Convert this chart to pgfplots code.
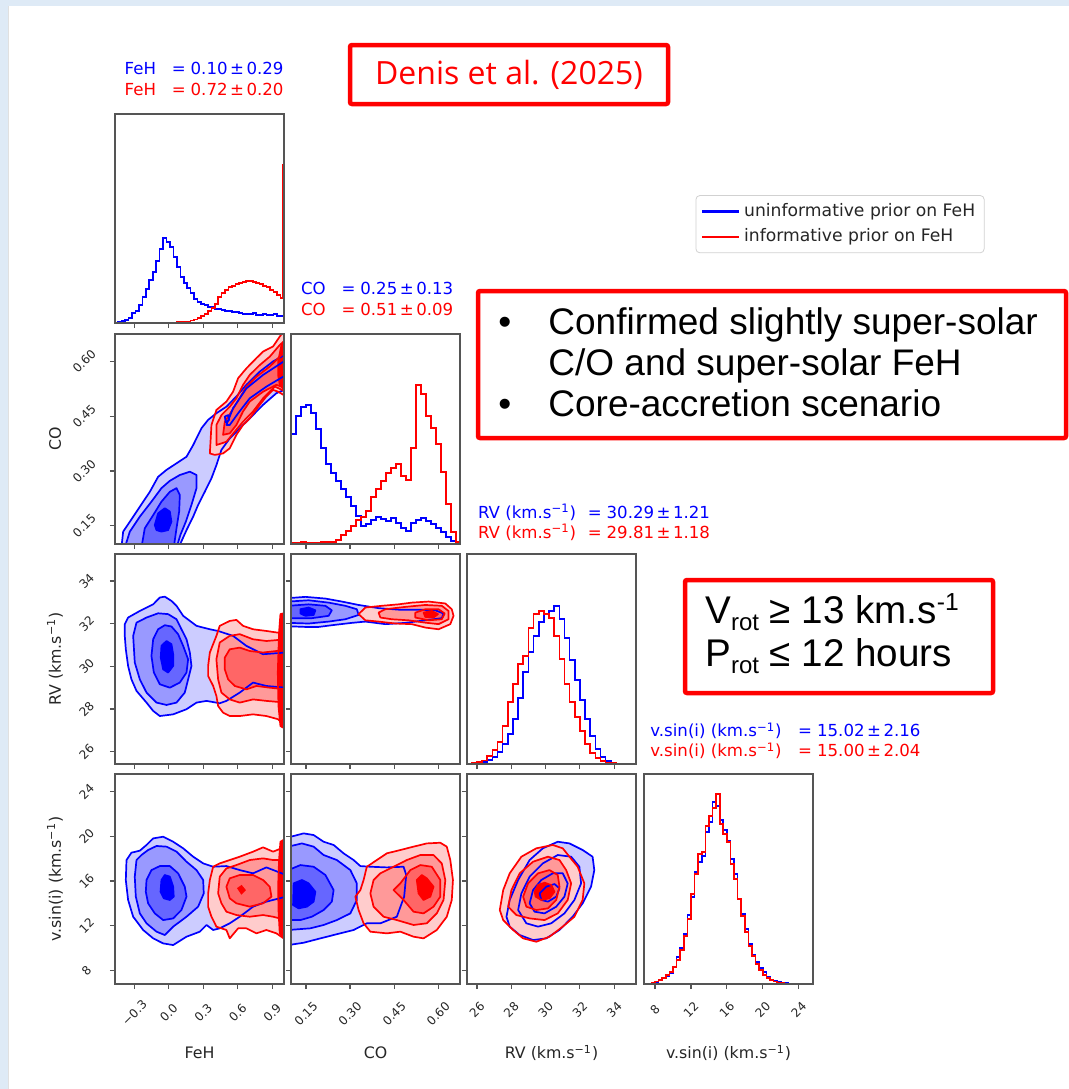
\documentclass[border=0pt]{standalone}
\usepackage{fontspec}
\setmainfont{DejaVu Sans}
\newfontfamily\arialf{Liberation Sans}
\newfontfamily\opensf{Open Sans}
\usepackage{pgfplots}
\usepackage{pgfplotstable}
\pgfplotsset{compat=1.18}
\definecolor{b1}{RGB}{204,204,255}
\definecolor{b2}{RGB}{153,153,255}
\definecolor{b3}{RGB}{102,102,255}
\definecolor{r1}{RGB}{255,204,204}
\definecolor{r2}{RGB}{255,153,153}
\definecolor{r3}{RGB}{255,102,102}
\definecolor{slideblue}{RGB}{222,234,246}
\definecolor{frm}{RGB}{85,85,85}

\pgfplotsset{
  cp/.style={scale only axis, width=84.5pt, height=105pt, anchor=south west, axis on top,
    axis line style={frm, line width=0.6pt},
    tick style={frm, line width=0.6pt},
    tick align=outside, major tick length=2.6pt,
    xtick pos=left, ytick pos=left,
    tick label style={font=\fontsize{6}{7}\selectfont, text=black!85},
    label style={font=\fontsize{7.9}{9}\selectfont, text=black!85},
    ylabel style={at={(axis description cs:-0.355,0.5)}, anchor=center},
    xlabel style={at={(axis description cs:0.5,-0.329)}, anchor=center}},
  xlf/.style={xticklabel style={yshift=-11.8pt, rotate=45, anchor=center}},
  xl4/.style={xticklabel style={yshift=-12.3pt, rotate=45, anchor=center}},
  xl2/.style={xticklabel style={yshift=-10.3pt, rotate=45, anchor=center}},
  yl4/.style={yticklabel style={xshift=-12.8pt, rotate=45, anchor=center}},
  yl2/.style={yticklabel style={xshift=-11.6pt, rotate=45, anchor=center}},
  fehx/.style={xmin=-0.468, xmax=1.002, xtick={-0.3,0,0.3,0.6,0.9}},
  cox/.style={xmin=0.099, xmax=0.674, xtick={0.15,0.3,0.45,0.6}},
  rvx/.style={xmin=25.42, xmax=35.27, xtick={26,28,30,32,34}},
  vsx/.style={xmin=6.77, xmax=25.59, xtick={8,12,16,20,24}},
  coy/.style={ymin=0.10, ymax=0.675, ytick={0.15,0.3,0.45,0.6}},
  rvy/.style={ymin=25.42, ymax=35.27, ytick={26,28,30,32,34}},
  vsy/.style={ymin=6.77, ymax=25.59, ytick={8,12,16,20,24}},
  histy/.style={ymin=0, ymax=210, ytick=\empty},
  hb/.style={const plot, blue, line width=0.8pt, line join=miter},
  hr/.style={const plot, red, line width=0.8pt, line join=miter},
  cl/.style={draw=#1, line width=0.85pt, line join=round},
}

\newcommand\cset[8]{%
  \addplot[fill=b1,draw=none] table {#1} -- cycle;
  \addplot[fill=b2,draw=none] table {#2} -- cycle;
  \addplot[fill=b3,draw=none] table {#3} -- cycle;
  \addplot[fill=blue,draw=none] table {#4} -- cycle;
  \addplot[fill=r1,draw=none] table {#5} -- cycle;
  \addplot[fill=r2,draw=none] table {#6} -- cycle;
  \addplot[fill=r3,draw=none] table {#7} -- cycle;
  \addplot[fill=red,draw=none] table {#8} -- cycle;
  \addplot[cl=blue] table {#1} -- cycle;
  \addplot[cl=blue] table {#2} -- cycle;
  \addplot[cl=blue] table {#3} -- cycle;
  \addplot[cl=blue] table {#4} -- cycle;
  \addplot[cl=red] table {#5} -- cycle;
  \addplot[cl=red] table {#6} -- cycle;
  \addplot[cl=red] table {#7} -- cycle;
  \addplot[cl=red] table {#8} -- cycle;
}

% ---------- Panel A : FeH vs CO ----------
\pgfplotstableread{
x y
-0.412 0.09
-0.397 0.134
-0.339 0.161
-0.252 0.202
-0.165 0.243
-0.093 0.284
-0.020 0.303
0.067 0.321
0.154 0.339
0.212 0.371
0.284 0.417
0.342 0.440
0.414 0.458
0.501 0.476
0.588 0.504
0.675 0.536
0.791 0.572
0.907 0.600
1.02 0.62
1.02 0.524
0.936 0.513
0.820 0.481
0.704 0.444
0.617 0.417
0.530 0.389
0.458 0.358
0.414 0.316
0.371 0.280
0.313 0.243
0.255 0.207
0.212 0.175
0.154 0.138
0.085 0.09
}\Abo
\pgfplotstableread{
x y
-0.383 0.09
-0.339 0.134
-0.252 0.175
-0.151 0.216
-0.064 0.253
0.009 0.273
0.096 0.289
0.183 0.298
0.241 0.289
0.241 0.253
0.197 0.207
0.148 0.161
0.101 0.125
0.067 0.09
}\Abm
\pgfplotstableread{
x y
-0.238 0.09
-0.209 0.143
-0.136 0.179
-0.064 0.216
0.009 0.243
0.067 0.253
0.096 0.234
0.090 0.189
0.067 0.143
0.043 0.09
}\Abd
\pgfplotstableread{
x y
-0.122 0.152
-0.093 0.184
-0.035 0.198
0.009 0.189
0.023 0.161
-0.006 0.138
-0.064 0.134
-0.107 0.138
}\Abc
\pgfplotstableread{
x y
0.559 0.472
0.675 0.526
0.820 0.563
1.02 0.604
1.02 0.563
0.849 0.531
0.704 0.499
0.603 0.458
0.530 0.426
0.501 0.426
}\Abx
\pgfplotstableread{
x y
0.487 0.449
0.516 0.453
0.525 0.440
0.496 0.433
}\Aby
\pgfplotstableread{
x y
0.357 0.348
0.371 0.426
0.414 0.467
0.501 0.490
0.559 0.517
0.603 0.554
0.675 0.581
0.762 0.609
0.820 0.627
0.907 0.641
0.965 0.668
1.02 0.69
1.02 0.504
0.951 0.517
0.907 0.522
0.849 0.504
0.791 0.481
0.704 0.444
0.646 0.426
0.588 0.399
0.530 0.362
0.472 0.348
0.400 0.344
}\Aro
\pgfplotstableread{
x y
0.414 0.371
0.414 0.426
0.458 0.453
0.530 0.476
0.588 0.499
0.646 0.536
0.704 0.563
0.791 0.590
0.878 0.613
0.965 0.645
1.02 0.66
1.02 0.517
0.922 0.531
0.820 0.499
0.733 0.463
0.646 0.435
0.574 0.408
0.501 0.380
}\Arm
\pgfplotstableread{
x y
0.472 0.399
0.487 0.435
0.545 0.463
0.588 0.485
0.675 0.531
0.762 0.558
0.878 0.586
0.965 0.613
1.02 0.627
1.02 0.526
0.936 0.536
0.820 0.517
0.704 0.490
0.646 0.463
0.588 0.426
0.530 0.403
}\Ard
\pgfplotstableread{
x y
0.951 0.600
0.980 0.645
1.02 0.663
1.02 0.517
0.965 0.536
0.951 0.563
}\Arc

% ---------- Panel B : FeH vs RV ----------
\pgfplotstableread{
x y
-0.383 31.98
-0.354 32.29
-0.252 32.60
-0.136 32.91
-0.078 33.23
-0.035 33.27
0.023 33.07
0.067 32.84
0.125 32.37
0.241 31.90
0.357 31.74
0.429 31.66
0.559 31.43
0.675 30.96
0.820 30.57
1.02 30.65
1.02 29.00
0.849 29.08
0.733 29.24
0.617 28.77
0.501 28.38
0.443 28.27
0.328 28.38
0.241 28.30
0.154 27.99
0.038 27.75
-0.078 27.67
-0.136 27.91
-0.194 28.30
-0.281 28.85
-0.325 29.39
-0.354 30.02
-0.374 30.80
-0.383 31.43
}\Bbo
\pgfplotstableread{
x y
-0.310 31.43
-0.281 32.05
-0.194 32.29
-0.093 32.49
-0.006 32.45
0.067 32.21
0.110 31.74
0.154 31.27
0.183 30.65
0.197 30.02
0.168 29.39
0.139 28.77
0.067 28.30
-0.020 28.19
-0.107 28.30
-0.194 28.77
-0.252 29.39
-0.296 30.18
}\Bbm
\pgfplotstableread{
x y
-0.136 31.27
-0.093 31.74
-0.035 31.93
0.023 31.87
0.081 31.51
0.125 30.96
0.168 30.33
0.154 29.71
0.096 29.24
0.009 29.00
-0.078 29.16
-0.130 29.71
-0.151 30.49
}\Bbd
\pgfplotstableread{
x y
-0.064 30.96
-0.020 31.19
0.023 31.04
0.038 30.57
0.038 30.02
-0.006 29.71
-0.049 29.86
-0.070 30.41
}\Bbc
\pgfplotstableread{
x y
0.342 30.02
0.357 30.65
0.414 31.43
0.443 31.90
0.530 32.13
0.588 32.18
0.646 31.90
0.733 31.74
0.849 31.66
0.951 31.58
1.02 31.74
1.02 27.12
0.951 27.52
0.849 27.67
0.733 27.75
0.617 27.67
0.530 27.67
0.472 27.83
0.429 28.14
0.414 28.61
0.386 29.08
0.342 29.55
}\Bro
\pgfplotstableread{
x y
0.414 30.33
0.443 31.12
0.530 31.43
0.617 31.51
0.733 31.27
0.849 31.19
1.02 31.27
1.02 28.30
0.849 28.38
0.733 28.45
0.617 28.30
0.530 28.45
0.458 28.77
0.429 29.39
}\Brm
\pgfplotstableread{
x y
0.487 30.41
0.530 30.80
0.617 30.88
0.704 30.72
0.820 30.65
0.936 30.72
1.02 30.80
1.02 28.92
0.878 29.00
0.762 29.08
0.675 28.92
0.574 29.08
0.516 29.39
0.487 29.86
}\Brd
\pgfplotstableread{
x y
0.959 31.58
0.971 32.45
1.02 32.52
1.02 27.05
0.971 27.20
0.954 28.14
0.948 29.71
}\Brc

% ---------- Panel C : CO vs RV ----------
\pgfplotstableread{
x y
0.09 33.20
0.148 33.26
0.216 33.18
0.272 33.04
0.329 32.88
0.397 32.73
0.465 32.66
0.533 32.66
0.590 32.63
0.618 32.48
0.612 32.26
0.556 32.16
0.488 32.04
0.420 31.98
0.352 32.10
0.306 32.04
0.250 31.95
0.193 31.85
0.148 31.85
0.09 31.88
}\Cbo
\pgfplotstableread{
x y
0.09 33.04
0.159 33.10
0.227 32.99
0.284 32.84
0.323 32.68
0.329 32.41
0.284 32.21
0.227 32.10
0.159 32.01
0.09 32.04
}\Cbm
\pgfplotstableread{
x y
0.09 32.84
0.159 32.91
0.216 32.84
0.238 32.63
0.227 32.37
0.170 32.26
0.09 32.26
}\Cbd
\pgfplotstableread{
x y
0.131 32.68
0.159 32.76
0.182 32.63
0.176 32.41
0.148 32.37
0.131 32.48
}\Cbc
\pgfplotstableread{
x y
0.329 32.45
0.352 32.76
0.408 32.84
0.465 32.91
0.510 32.99
0.567 33.04
0.624 32.95
0.646 32.68
0.652 32.37
0.641 31.98
0.601 31.74
0.556 31.82
0.510 31.98
0.454 32.01
0.397 32.10
0.352 32.16
}\Cro
\pgfplotstableread{
x y
0.397 32.52
0.420 32.68
0.488 32.79
0.556 32.88
0.612 32.84
0.635 32.60
0.635 32.21
0.601 31.98
0.556 32.05
0.499 32.16
0.442 32.21
0.403 32.29
}\Crm
\pgfplotstableread{
x y
0.522 32.52
0.556 32.68
0.601 32.68
0.622 32.48
0.612 32.21
0.567 32.16
0.522 32.29
}\Crd
\pgfplotstableread{
x y
0.550 32.52
0.578 32.60
0.599 32.45
0.584 32.29
0.556 32.32
}\Crc

% ---------- Panel D : FeH vs vsini ----------
\pgfplotstableread{
x y
-0.368 17.88
-0.325 18.54
-0.252 18.72
-0.194 19.23
-0.136 19.82
-0.049 19.97
0.038 19.52
0.125 18.93
0.212 18.18
0.299 17.58
0.386 17.28
0.501 17.34
0.617 16.98
0.733 16.69
0.849 17.22
1.02 16.54
1.02 14.60
0.849 14.15
0.733 13.70
0.617 12.80
0.530 12.21
0.443 11.76
0.386 11.61
0.328 12.06
0.270 11.46
0.154 11.01
0.038 10.26
-0.049 10.41
-0.136 10.86
-0.223 11.61
-0.310 12.80
-0.354 14.30
-0.374 16.09
}\Dbo
\pgfplotstableread{
x y
-0.281 17.88
-0.238 18.33
-0.180 18.78
-0.107 19.14
-0.020 19.08
0.067 18.63
0.154 17.73
0.241 16.98
0.299 16.09
0.304 14.89
0.255 13.70
0.154 12.80
0.038 11.91
-0.035 11.16
-0.107 11.46
-0.194 12.21
-0.252 13.10
-0.287 14.60
-0.296 16.39
}\Dbm
\pgfplotstableread{
x y
-0.194 16.09
-0.151 16.98
-0.078 17.34
0.009 17.34
0.081 16.69
0.139 15.49
0.154 14.60
0.110 13.40
0.038 12.65
-0.049 12.50
-0.122 13.10
-0.180 14.00
-0.200 15.04
}\Dbd
\pgfplotstableread{
x y
-0.064 16.09
-0.035 16.54
0.009 16.39
0.038 15.49
0.043 14.60
0.009 14.30
-0.043 14.45
-0.072 15.04
}\Dbc
\pgfplotstableread{
x y
0.342 14.89
0.357 16.09
0.386 17.28
0.443 17.58
0.530 17.88
0.617 18.18
0.733 18.63
0.820 19.02
0.907 18.63
0.980 18.93
1.02 19.52
1.02 10.71
0.936 11.31
0.849 11.61
0.762 11.31
0.675 11.76
0.603 11.76
0.530 10.86
0.501 11.61
0.414 11.91
0.371 12.80
0.342 13.70
}\Dro
\pgfplotstableread{
x y
0.429 14.89
0.443 16.39
0.501 17.13
0.588 17.43
0.704 17.88
0.820 18.03
0.907 17.88
1.02 17.88
1.02 12.50
0.907 12.80
0.820 12.95
0.704 12.80
0.588 12.95
0.501 13.25
0.458 14.00
}\Drm
\pgfplotstableread{
x y
0.501 15.49
0.530 16.24
0.617 16.54
0.733 16.54
0.820 16.09
0.878 15.49
0.893 14.60
0.820 14.00
0.704 13.70
0.588 14.00
0.530 14.45
}\Drd
\pgfplotstableread{
x y
0.959 17.88
0.971 19.52
1.02 19.82
1.02 10.71
0.965 11.31
0.954 13.40
0.951 15.49
}\Drc
\pgfplotstableread{
x y
0.603 15.34
0.632 15.55
0.661 15.19
0.632 14.89
}\Drx

% ---------- Panel E : CO vs vsini ----------
\pgfplotstableread{
x y
0.09 19.91
0.142 20.27
0.176 20.12
0.210 19.52
0.244 19.23
0.278 18.48
0.312 17.88
0.335 17.34
0.369 17.28
0.425 17.22
0.482 17.28
0.491 16.54
0.484 14.60
0.459 12.80
0.403 12.21
0.357 12.21
0.312 11.61
0.244 11.16
0.199 10.86
0.142 10.47
0.09 10.26
}\Ebo
\pgfplotstableread{
x y
0.09 19.08
0.136 19.37
0.176 19.08
0.210 18.33
0.255 17.88
0.301 16.98
0.323 15.79
0.323 14.30
0.301 13.10
0.255 12.50
0.210 12.06
0.165 11.76
0.09 11.61
}\Ebm
\pgfplotstableread{
x y
0.09 16.98
0.131 17.43
0.176 17.28
0.216 16.54
0.244 15.19
0.238 14.15
0.210 13.40
0.170 12.80
0.131 12.50
0.09 12.50
}\Ebd
\pgfplotstableread{
x y
0.108 15.79
0.136 16.09
0.159 15.79
0.182 15.04
0.176 14.15
0.153 13.70
0.125 13.55
0.106 13.85
}\Ebc
\pgfplotstableread{
x y
0.357 17.28
0.391 17.88
0.425 18.48
0.471 18.78
0.516 19.08
0.561 19.37
0.607 19.43
0.629 19.08
0.641 17.88
0.650 16.09
0.646 14.30
0.629 12.80
0.595 11.61
0.550 10.86
0.516 11.01
0.471 11.46
0.425 11.31
0.369 11.46
0.346 12.21
0.329 13.40
0.318 14.60
0.335 15.19
0.346 16.09
}\Ero
\pgfplotstableread{
x y
0.380 16.09
0.403 16.69
0.448 17.28
0.493 17.88
0.539 18.33
0.584 18.33
0.612 17.58
0.624 16.09
0.618 14.30
0.595 13.10
0.561 12.21
0.516 12.06
0.459 12.50
0.414 12.80
0.380 13.70
0.369 14.89
}\Erm
\pgfplotstableread{
x y
0.448 15.19
0.471 15.79
0.505 16.98
0.539 17.43
0.578 17.28
0.607 16.09
0.607 14.60
0.584 13.70
0.550 13.10
0.516 13.25
0.482 14.30
}\Erd
\pgfplotstableread{
x y
0.527 16.09
0.544 16.54
0.561 16.24
0.584 15.49
0.573 14.60
0.550 14.30
0.533 14.89
}\Erc

% ---------- Panel F : RV vs vsini ----------
\pgfplotstableread{
x y
27.72 12.80
27.91 14.30
28.40 16.09
29.07 17.88
29.84 18.93
30.71 19.52
31.39 19.37
32.16 18.78
32.74 18.18
32.84 16.98
32.65 15.49
32.16 14.00
31.58 12.80
30.81 11.61
30.04 10.86
29.27 10.71
28.49 11.16
27.91 11.91
}\Fbo
\pgfplotstableread{
x y
28.40 13.40
28.59 14.89
29.07 16.39
29.84 17.58
30.71 18.33
31.49 18.18
31.97 17.28
32.07 15.79
31.68 14.30
31.10 13.10
30.33 12.21
29.56 11.91
28.88 12.21
}\Fbm
\pgfplotstableread{
x y
29.07 14.00
29.27 15.19
29.75 16.09
30.42 16.69
31.00 16.69
31.29 15.79
31.10 14.60
30.62 13.70
29.94 13.10
29.36 13.25
}\Fbd
\pgfplotstableread{
x y
29.65 14.89
30.04 15.49
30.52 15.73
30.81 15.34
30.62 14.60
30.14 14.15
29.75 14.30
}\Fbc
\pgfplotstableread{
x y
27.33 13.40
27.53 15.19
27.91 16.69
28.59 18.18
29.46 18.93
30.42 19.23
31.00 18.93
31.39 18.18
31.87 17.28
32.26 15.79
32.16 14.30
31.68 12.80
31.00 11.91
30.23 11.01
29.46 10.56
28.69 10.86
28.11 11.61
27.53 12.50
}\Fro
\pgfplotstableread{
x y
27.82 13.70
28.01 15.19
28.49 16.69
29.27 17.73
30.14 18.18
30.81 17.88
31.20 16.98
31.49 15.79
31.29 14.30
30.71 13.10
29.94 12.50
29.07 12.65
28.30 12.95
}\Frm
\pgfplotstableread{
x y
28.69 14.60
28.98 15.79
29.56 16.69
30.23 16.98
30.71 16.54
30.81 15.49
30.62 14.30
30.14 13.55
29.46 13.40
28.88 13.70
}\Frd
\pgfplotstableread{
x y
29.36 15.04
29.56 15.64
29.94 15.85
30.33 15.64
30.52 15.04
30.23 14.45
29.75 14.30
29.42 14.60
}\Frc

\newcommand\tf{\fontsize{8.3}{10}\selectfont}
\newcommand\kms{(km.s\textsuperscript{−1})}

\begin{document}
\begin{tikzpicture}
% slide background
\begin{scope}[x=0.5pt,y=-0.5pt]
\fill[slideblue] (0,0) rectangle (1069,1089);
\fill[white] (8.5,6) rectangle (1069,1089);
\draw[black!12, line width=0.4pt] (8.5,6) -- (8.5,1089);
\end{scope}

% ===== Row 1 : FeH histogram =====
\begin{axis}[cp, fehx, histy, ymax=209, height=104.5pt, at={(57.5pt,-161.5pt)}, xticklabels={},
  legend style={at={(3.435,0.612)}, anchor=north west, draw=black!18, rounded corners=2pt, fill=white,
    font=\fontsize{8.6}{10}\selectfont, text=black!85, inner xsep=2.5pt, inner ysep=2pt, row sep=0.6pt},
  legend cell align=left,
  legend image code/.code={\draw[#1, line width=1.1pt] (0pt,0pt) -- (18.5pt,0pt);}]
\addplot[hb] coordinates {(-0.47,0) (-0.47,0.5) (-0.44,1) (-0.41,2) (-0.38,3) (-0.35,5) (-0.32,10) (-0.29,12) (-0.26,18) (-0.23,26) (-0.20,34) (-0.17,43) (-0.14,51) (-0.11,62) (-0.08,74) (-0.05,85) (-0.02,81) (0.01,76) (0.04,66) (0.07,56) (0.10,46) (0.13,40) (0.16,35) (0.19,30) (0.22,24) (0.25,21) (0.28,19) (0.31,18) (0.34,16) (0.37,16) (0.40,14) (0.43,14) (0.46,13) (0.49,12) (0.52,12) (0.55,11) (0.58,11) (0.61,10) (0.64,9) (0.67,9) (0.70,9) (0.73,10) (0.76,8) (0.79,8) (0.82,9) (0.85,8) (0.88,8) (0.91,9) (0.94,7) (0.97,7) (1.00,7) (1.00,0)};
\addlegendentry{uninformative prior on FeH}
\addplot[hr] coordinates {(0.01,0) (0.01,0.3) (0.04,0.5) (0.07,0.8) (0.10,1) (0.13,1.5) (0.16,1.5) (0.19,2.5) (0.22,3.5) (0.25,5) (0.28,7) (0.31,9) (0.34,12) (0.37,15) (0.40,19) (0.43,26) (0.46,30) (0.49,33) (0.52,36) (0.55,37) (0.58,39) (0.61,40) (0.64,41) (0.67,42) (0.70,42) (0.73,41) (0.76,40) (0.79,39) (0.82,37) (0.85,36) (0.88,33) (0.91,31) (0.94,28) (0.97,25) (0.99,158) (1.01,158)};
\addlegendentry{informative prior on FeH}
\end{axis}

% ===== Row 2 =====
\begin{axis}[cp, fehx, coy, yl4, at={(57.5pt,-272pt)}, xticklabels={},
  yticklabels={0.15,0.30,0.45,0.60}, ylabel={CO}]
\cset{\Abo}{\Abm}{\Abd}{\Abc}{\Aro}{\Arm}{\Ard}{\Arc}
\addplot[cl=blue] table {\Abx} -- cycle;
\addplot[cl=blue] table {\Aby} -- cycle;
\end{axis}
\begin{axis}[cp, cox, histy, at={(145.5pt,-272pt)}, xticklabels={}]
\addplot[hb] coordinates {(0.100,0) (0.100,110) (0.117,128) (0.134,137) (0.151,139) (0.168,131) (0.185,115) (0.202,96) (0.219,80) (0.236,71) (0.253,63) (0.270,55) (0.287,47) (0.304,38) (0.321,28) (0.338,18) (0.355,20) (0.372,24) (0.389,27) (0.406,25) (0.423,23) (0.440,26) (0.457,21) (0.474,16) (0.491,13) (0.508,21) (0.525,24) (0.542,26) (0.559,23) (0.576,20) (0.593,16) (0.610,12) (0.627,7) (0.644,3) (0.661,1) (0.678,1)};
\addplot[hr] coordinates {(0.100,0) (0.100,1) (0.117,1) (0.134,2) (0.151,1) (0.168,1) (0.185,1) (0.202,2) (0.219,2) (0.236,2) (0.253,4) (0.270,9) (0.287,13) (0.304,18) (0.321,24) (0.338,27) (0.355,33) (0.372,47) (0.389,55) (0.406,63) (0.423,71) (0.440,76) (0.457,80) (0.474,68) (0.491,64) (0.508,96) (0.525,159) (0.542,150) (0.559,128) (0.576,116) (0.593,100) (0.610,72) (0.627,40) (0.644,12) (0.661,2) (0.678,2)};
\end{axis}

% ===== Row 3 =====
\begin{axis}[cp, fehx, rvy, yl2, at={(57.5pt,-382pt)}, xticklabels={},
  yticklabels={26,28,30,32,34}, ylabel={RV \kms}]
\cset{\Bbo}{\Bbm}{\Bbd}{\Bbc}{\Bro}{\Brm}{\Brd}{\Brc}
\end{axis}
\begin{axis}[cp, cox, rvy, at={(145.5pt,-382pt)}, xticklabels={}, yticklabels={}]
\cset{\Cbo}{\Cbm}{\Cbd}{\Cbc}{\Cro}{\Crm}{\Crd}{\Crc}
\end{axis}
\begin{axis}[cp, rvx, histy, at={(233.5pt,-382pt)}, xticklabels={}]
\addplot[hb] coordinates {(25.4,0) (25.4,0) (25.7,0.3) (26.0,1) (26.3,2) (26.6,4) (26.9,7) (27.2,12) (27.5,20) (27.8,30) (28.1,45) (28.4,66) (28.7,92) (29.0,112) (29.3,128) (29.6,142) (29.9,150) (30.2,153) (30.5,158) (30.8,145) (31.1,126) (31.4,104) (31.7,84) (32.0,64) (32.3,45) (32.6,28) (32.9,15) (33.2,7) (33.5,3) (33.8,1.5) (34.1,0.7) (34.4,0.3) (34.7,0.1) (35.0,0) (35.3,0)};
\addplot[hr] coordinates {(25.4,0) (25.4,0.5) (25.7,1) (26.0,2) (26.3,3.5) (26.6,8) (26.9,14) (27.2,22) (27.5,38) (27.8,62) (28.1,80) (28.4,100) (28.7,108) (29.0,136) (29.3,150) (29.6,153) (29.9,150) (30.2,146) (30.5,128) (30.8,105) (31.1,80) (31.4,62) (31.7,47) (32.0,33) (32.3,20) (32.6,11) (32.9,6) (33.2,3) (33.5,1.5) (33.8,1) (34.1,0.5) (34.4,0.2) (34.7,0) (35.0,0) (35.3,0)};
\end{axis}

% ===== Row 4 =====
\begin{axis}[cp, fehx, vsy, yl2, xlf, at={(57.5pt,-492pt)},
  xticklabels={−0.3,0.0,0.3,0.6,0.9}, yticklabels={8,12,16,20,24},
  xlabel={FeH}, ylabel={v.sin(i) \kms}]
\cset{\Dbo}{\Dbm}{\Dbd}{\Dbc}{\Dro}{\Drm}{\Drd}{\Drc}
\addplot[fill=red, draw=red, line width=0.85pt] table {\Drx} -- cycle;
\end{axis}
\begin{axis}[cp, cox, vsy, xl4, at={(145.5pt,-492pt)},
  xticklabels={0.15,0.30,0.45,0.60}, yticklabels={}, xlabel={CO}]
\cset{\Ebo}{\Ebm}{\Ebd}{\Ebc}{\Ero}{\Erm}{\Erd}{\Erc}
\end{axis}
\begin{axis}[cp, rvx, vsy, xl2, at={(233.5pt,-492pt)},
  xticklabels={26,28,30,32,34}, yticklabels={}, xlabel={RV \kms}]
\cset{\Fbo}{\Fbm}{\Fbd}{\Fbc}{\Fro}{\Frm}{\Frd}{\Frc}
\end{axis}
\begin{axis}[cp, vsx, histy, xl2, at={(322pt,-492pt)},
  xticklabels={8,12,16,20,24}, xlabel={v.sin(i) \kms}]
\addplot[hb] coordinates {(6.8,0) (6.8,0.5) (7.2,0.7) (7.6,1.2) (8.0,2) (8.4,3.5) (8.8,6) (9.2,8) (9.6,11) (10.0,17) (10.4,27) (10.8,36) (11.2,50) (11.6,69) (12.0,87) (12.4,112) (12.8,122) (13.2,128) (13.6,152) (14.0,162) (14.4,182) (14.8,178) (15.2,164) (15.6,154) (16.0,143) (16.4,125) (16.8,110) (17.2,85) (17.6,70) (18.0,55) (18.4,40) (18.8,29) (19.2,22) (19.6,16) (20.0,12) (20.4,7) (20.8,4.5) (21.2,3.5) (21.6,2.5) (22.0,1.5) (22.4,1) (22.8,0.7) (23.2,0.5) (23.6,0.3) (24.0,0.2) (24.4,0.1) (24.8,0.1) (25.2,0) (25.6,0)};
\addplot[hr] coordinates {(6.8,0) (6.8,0.3) (7.2,0.5) (7.6,1) (8.0,2.5) (8.4,4) (8.8,6) (9.2,9) (9.6,12) (10.0,17) (10.4,24) (10.8,34) (11.2,48) (11.6,65) (12.0,90) (12.4,110) (12.8,130) (13.2,132) (13.6,158) (14.0,168) (14.4,176) (14.8,190) (15.2,160) (15.6,150) (16.0,142) (16.4,120) (16.8,105) (17.2,85) (17.6,68) (18.0,52) (18.4,38) (18.8,28) (19.2,20) (19.6,14) (20.0,9) (20.4,6) (20.8,4) (21.2,2.5) (21.6,1.5) (22.0,1) (22.4,0.7) (22.8,0.5) (23.2,0.3) (23.6,0.2) (24.0,0.1) (24.4,0) (24.8,0) (25.2,0) (25.6,0)};
\end{axis}

% ===== titles and text boxes =====
\begin{scope}[x=0.5pt,y=-0.5pt]
\tikzset{tt/.style={anchor=base west, inner sep=0pt, font=\tf}}
\node[tt, text=blue] at (124.3,74) {FeH\hspace{0.95em}=\hspace{0.3em}0.10\hspace{0.15em}±\hspace{0.15em}0.29};
\node[tt, text=red]  at (124.3,95) {FeH\hspace{0.95em}=\hspace{0.3em}0.72\hspace{0.15em}±\hspace{0.15em}0.20};
\node[tt, text=blue] at (300.7,294) {CO\hspace{0.95em}=\hspace{0.3em}0.25\hspace{0.15em}±\hspace{0.15em}0.13};
\node[tt, text=red]  at (300.7,315) {CO\hspace{0.95em}=\hspace{0.3em}0.51\hspace{0.15em}±\hspace{0.15em}0.09};
\node[tt, text=blue] at (477.7,518) {RV \kms\hspace{0.7em}=\hspace{0.3em}30.29\hspace{0.15em}±\hspace{0.15em}1.21};
\node[tt, text=red]  at (477.7,538.5) {RV \kms\hspace{0.7em}=\hspace{0.3em}29.81\hspace{0.15em}±\hspace{0.15em}1.18};
\node[tt, text=blue] at (650,736.7) {v.sin(i) \kms\hspace{1em}=\hspace{0.3em}15.02\hspace{0.15em}±\hspace{0.15em}2.16};
\node[tt, text=red]  at (650,756.7) {v.sin(i) \kms\hspace{1em}=\hspace{0.3em}15.00\hspace{0.15em}±\hspace{0.15em}2.04};

\node[draw=red, line width=2.25pt, rounded corners=1pt, minimum width=159pt, minimum height=29.5pt,
  inner sep=0pt, text=red, font=\opensf\fontsize{16}{19}\selectfont] at (509,74.5) {Denis et al. (2025)};

\draw[red, line width=2.25pt, rounded corners=1pt] (478,291) rectangle (1066,438);
\tikzset{bt/.style={anchor=base west, inner sep=0pt, font=\arialf\fontsize{18.5}{22}\selectfont}}
\node[bt] at (498,334) {•};
\node[bt] at (548,334) {Confirmed slightly super-solar};
\node[bt] at (548,375) {C/O and super-solar FeH};
\node[bt] at (498,416) {•};
\node[bt] at (548,416) {Core-accretion scenario};

\draw[red, line width=2.25pt, rounded corners=1pt] (685,580) rectangle (993,693);
\node[bt, font=\arialf\fontsize{19.3}{22}\selectfont] at (705,623.3)
  {V\raisebox{-3.5pt}{\fontsize{12}{13}\selectfont rot} ≥ 13 km.s\raisebox{6.2pt}{\fontsize{12.3}{13}\selectfont -1}};
\node[bt, font=\arialf\fontsize{19.3}{22}\selectfont] at (705,666.7)
  {P\raisebox{-3.5pt}{\fontsize{12}{13}\selectfont rot} ≤ 12 hours};
\end{scope}
\pgfresetboundingbox
\path[use as bounding box] (0,0) rectangle (534.5pt,-544.5pt);
\end{tikzpicture}
\end{document}
